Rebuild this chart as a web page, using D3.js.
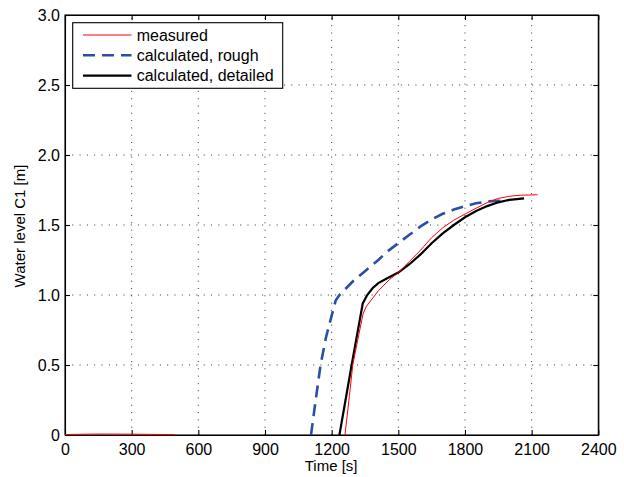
<!DOCTYPE html>
<html>
<head>
<meta charset="utf-8">
<script src="https://cdn.jsdelivr.net/npm/d3@7"></script>
<style>
  body { margin: 0; background: #fff; }
  text { font-family: "Liberation Sans", Arial, Helvetica, sans-serif; fill: #000; }
</style>
</head>
<body>
<div id="chart"></div>
<script>
// tick values
const xTicks = [0, 300, 600, 900, 1200, 1500, 1800, 2100, 2400]
const yTicks = [0, 0.5, 1.0, 1.5, 2.0, 2.5, 3.0]

// measured (NaN = gap in record)
const measuredT = [0, 60, 150, 300, 420, 495, NaN, 1260, 1280, 1295, 1320, 1342, 1357, 1410, 1460, 1500, 1550, 1600, 1650, 1700, 1750, 1800, 1850, 1900, 1950, 2000, 2050, 2127]
const measuredH = [0.003, 0.005, 0.007, 0.006, 0.004, 0.003, NaN, 0, 0.28, 0.5, 0.7, 0.87, 0.92, 1.03, 1.11, 1.16, 1.24, 1.32, 1.41, 1.48, 1.535, 1.578, 1.62, 1.66, 1.69, 1.705, 1.713, 1.716]

// calculated, rough
const roughT = [1107, 1130, 1150, 1175, 1203, 1218, 1235, 1297, 1350, 1410, 1450, 1500, 1550, 1600, 1650, 1700, 1750, 1800, 1850, 1900, 1950, 1995]
const roughH = [0, 0.27, 0.5, 0.7, 0.87, 0.96, 1.0, 1.10, 1.17, 1.25, 1.31, 1.37, 1.43, 1.49, 1.54, 1.58, 1.61, 1.635, 1.655, 1.668, 1.673, 1.676]

// calculated, detailed
const detailT = [1235, 1290, 1340, 1360, 1385, 1410, 1450, 1500, 1550, 1600, 1650, 1700, 1750, 1800, 1850, 1900, 1950, 2000, 2066]
const detailH = [0, 0.5, 0.94, 1.0, 1.05, 1.085, 1.12, 1.16, 1.22, 1.29, 1.37, 1.44, 1.50, 1.555, 1.60, 1.635, 1.662, 1.68, 1.69]

const W = 624, H = 477
const margin = { top: 15, right: 25.7, bottom: 42, left: 65 }

const svg = d3.select("#chart").append("svg")
    .attr("width", W)
    .attr("height", H)

const x = d3.scaleLinear().domain([0, 2400]).range([margin.left, W - margin.right])
const y = d3.scaleLinear().domain([0, 3]).range([H - margin.bottom, margin.top])

// dotted grid
svg.append("g").selectAll("line")
    .data(xTicks.slice(1, -1))
    .enter().append("line")
    .attr("x1", d => x(d)).attr("x2", d => x(d))
    .attr("y1", y(0)).attr("y2", y(3))
    .attr("stroke", "#333")
    .attr("stroke-width", 1)
    .attr("stroke-dasharray", "1,6.3")

svg.append("g").selectAll("line")
    .data(yTicks.slice(1, -1))
    .enter().append("line")
    .attr("x1", x(0)).attr("x2", x(2400))
    .attr("y1", d => y(d)).attr("y2", d => y(d))
    .attr("stroke", "#333")
    .attr("stroke-width", 1)
    .attr("stroke-dasharray", "1,6.3")

// axes with inward ticks
const xAxis = svg.append("g")
    .attr("transform", `translate(0,${y(0)})`)
    .call(d3.axisBottom(x).tickValues(xTicks).tickSize(-5).tickSizeOuter(0).tickFormat(d3.format("d")))
xAxis.selectAll("text")
    .attr("y", 20).attr("dy", 0)
    .style("font-size", "16px")

const yAxis = svg.append("g")
    .attr("transform", `translate(${x(0)},0)`)
    .call(d3.axisLeft(y).tickValues(yTicks).tickSize(-5).tickSizeOuter(0)
        .tickFormat(d => d === 0 ? "0" : d3.format(".1f")(d)))
yAxis.selectAll("text")
    .attr("x", -5).attr("y", 5.7).attr("dy", 0)
    .style("font-size", "16px")

svg.append("g")
    .attr("transform", `translate(0,${y(3)})`)
    .call(d3.axisTop(x).tickValues(xTicks).tickSize(-5).tickSizeOuter(0).tickFormat(""))
svg.append("g")
    .attr("transform", `translate(${x(2400)},0)`)
    .call(d3.axisRight(y).tickValues(yTicks).tickSize(-5).tickSizeOuter(0).tickFormat(""))

svg.selectAll(".domain, .tick line").attr("stroke", "#000").attr("stroke-width", 1.1)

// frame
svg.append("rect")
    .attr("x", x(0)).attr("y", y(3))
    .attr("width", x(2400) - x(0)).attr("height", y(0) - y(3))
    .attr("fill", "none").attr("stroke", "#000").attr("stroke-width", 1.1)

// labels
svg.append("text")
    .attr("x", (x(0) + x(2400)) / 2 - 0.5)
    .attr("y", 471)
    .attr("text-anchor", "middle")
    .style("font-size", "15px")
    .text("Time [s]")

svg.append("text")
    .attr("transform", "translate(25,226) rotate(-90)")
    .attr("text-anchor", "middle")
    .style("font-size", "15px")
    .text("Water level C1 [m]")

// lines
svg.append("clipPath").attr("id", "clip")
    .append("rect")
    .attr("x", x(0)).attr("y", y(3) - 2)
    .attr("width", x(2400) - x(0)).attr("height", y(0) - y(3) + 2)

const plot = svg.append("g").attr("clip-path", "url(#clip)")

function series(ts, hs) {
    return ts.map((t, i) => ({ t: t, h: hs[i] }))
}
const line = d3.line()
    .defined(d => !isNaN(d.t) && !isNaN(d.h))
    .x(d => x(d.t))
    .y(d => y(d.h))

plot.append("path")
    .datum(series(roughT, roughH))
    .attr("fill", "none")
    .attr("stroke", "#2b4ea6")
    .attr("stroke-width", 2.6)
    .attr("stroke-dasharray", "12,7")
    .attr("d", line)

plot.append("path")
    .datum(series(detailT, detailH))
    .attr("fill", "none")
    .attr("stroke", "#000")
    .attr("stroke-width", 2.2)
    .attr("d", line)

plot.append("path")
    .datum(series(measuredT, measuredH))
    .attr("fill", "none")
    .attr("stroke", "#f00")
    .attr("stroke-width", 1)
    .attr("d", line)

// legend
const legendItems = ["measured", "calculated, rough", "calculated, detailed"]
const legendStyle = [
    { color: "#f00", width: 1, dash: null },
    { color: "#2b4ea6", width: 2.6, dash: "12,7" },
    { color: "#000", width: 2.2, dash: null }
]
const legend = svg.append("g")
legend.append("rect")
    .attr("x", 72.7).attr("y", 22.7)
    .attr("width", 210).attr("height", 65.6)
    .attr("fill", "#fff").attr("stroke", "#000").attr("stroke-width", 1.1)

legendItems.forEach((name, i) => {
    const cy = 35 + i * 20.3
    legend.append("line")
        .attr("x1", 83).attr("x2", 131.5)
        .attr("y1", cy).attr("y2", cy)
        .attr("stroke", legendStyle[i].color)
        .attr("stroke-width", legendStyle[i].width)
        .attr("stroke-dasharray", legendStyle[i].dash)
    legend.append("text")
        .attr("x", 136.7)
        .attr("y", cy + 5.7)
        .style("font-size", "16px")
        .text(name)
})
</script>
</body>
</html>
